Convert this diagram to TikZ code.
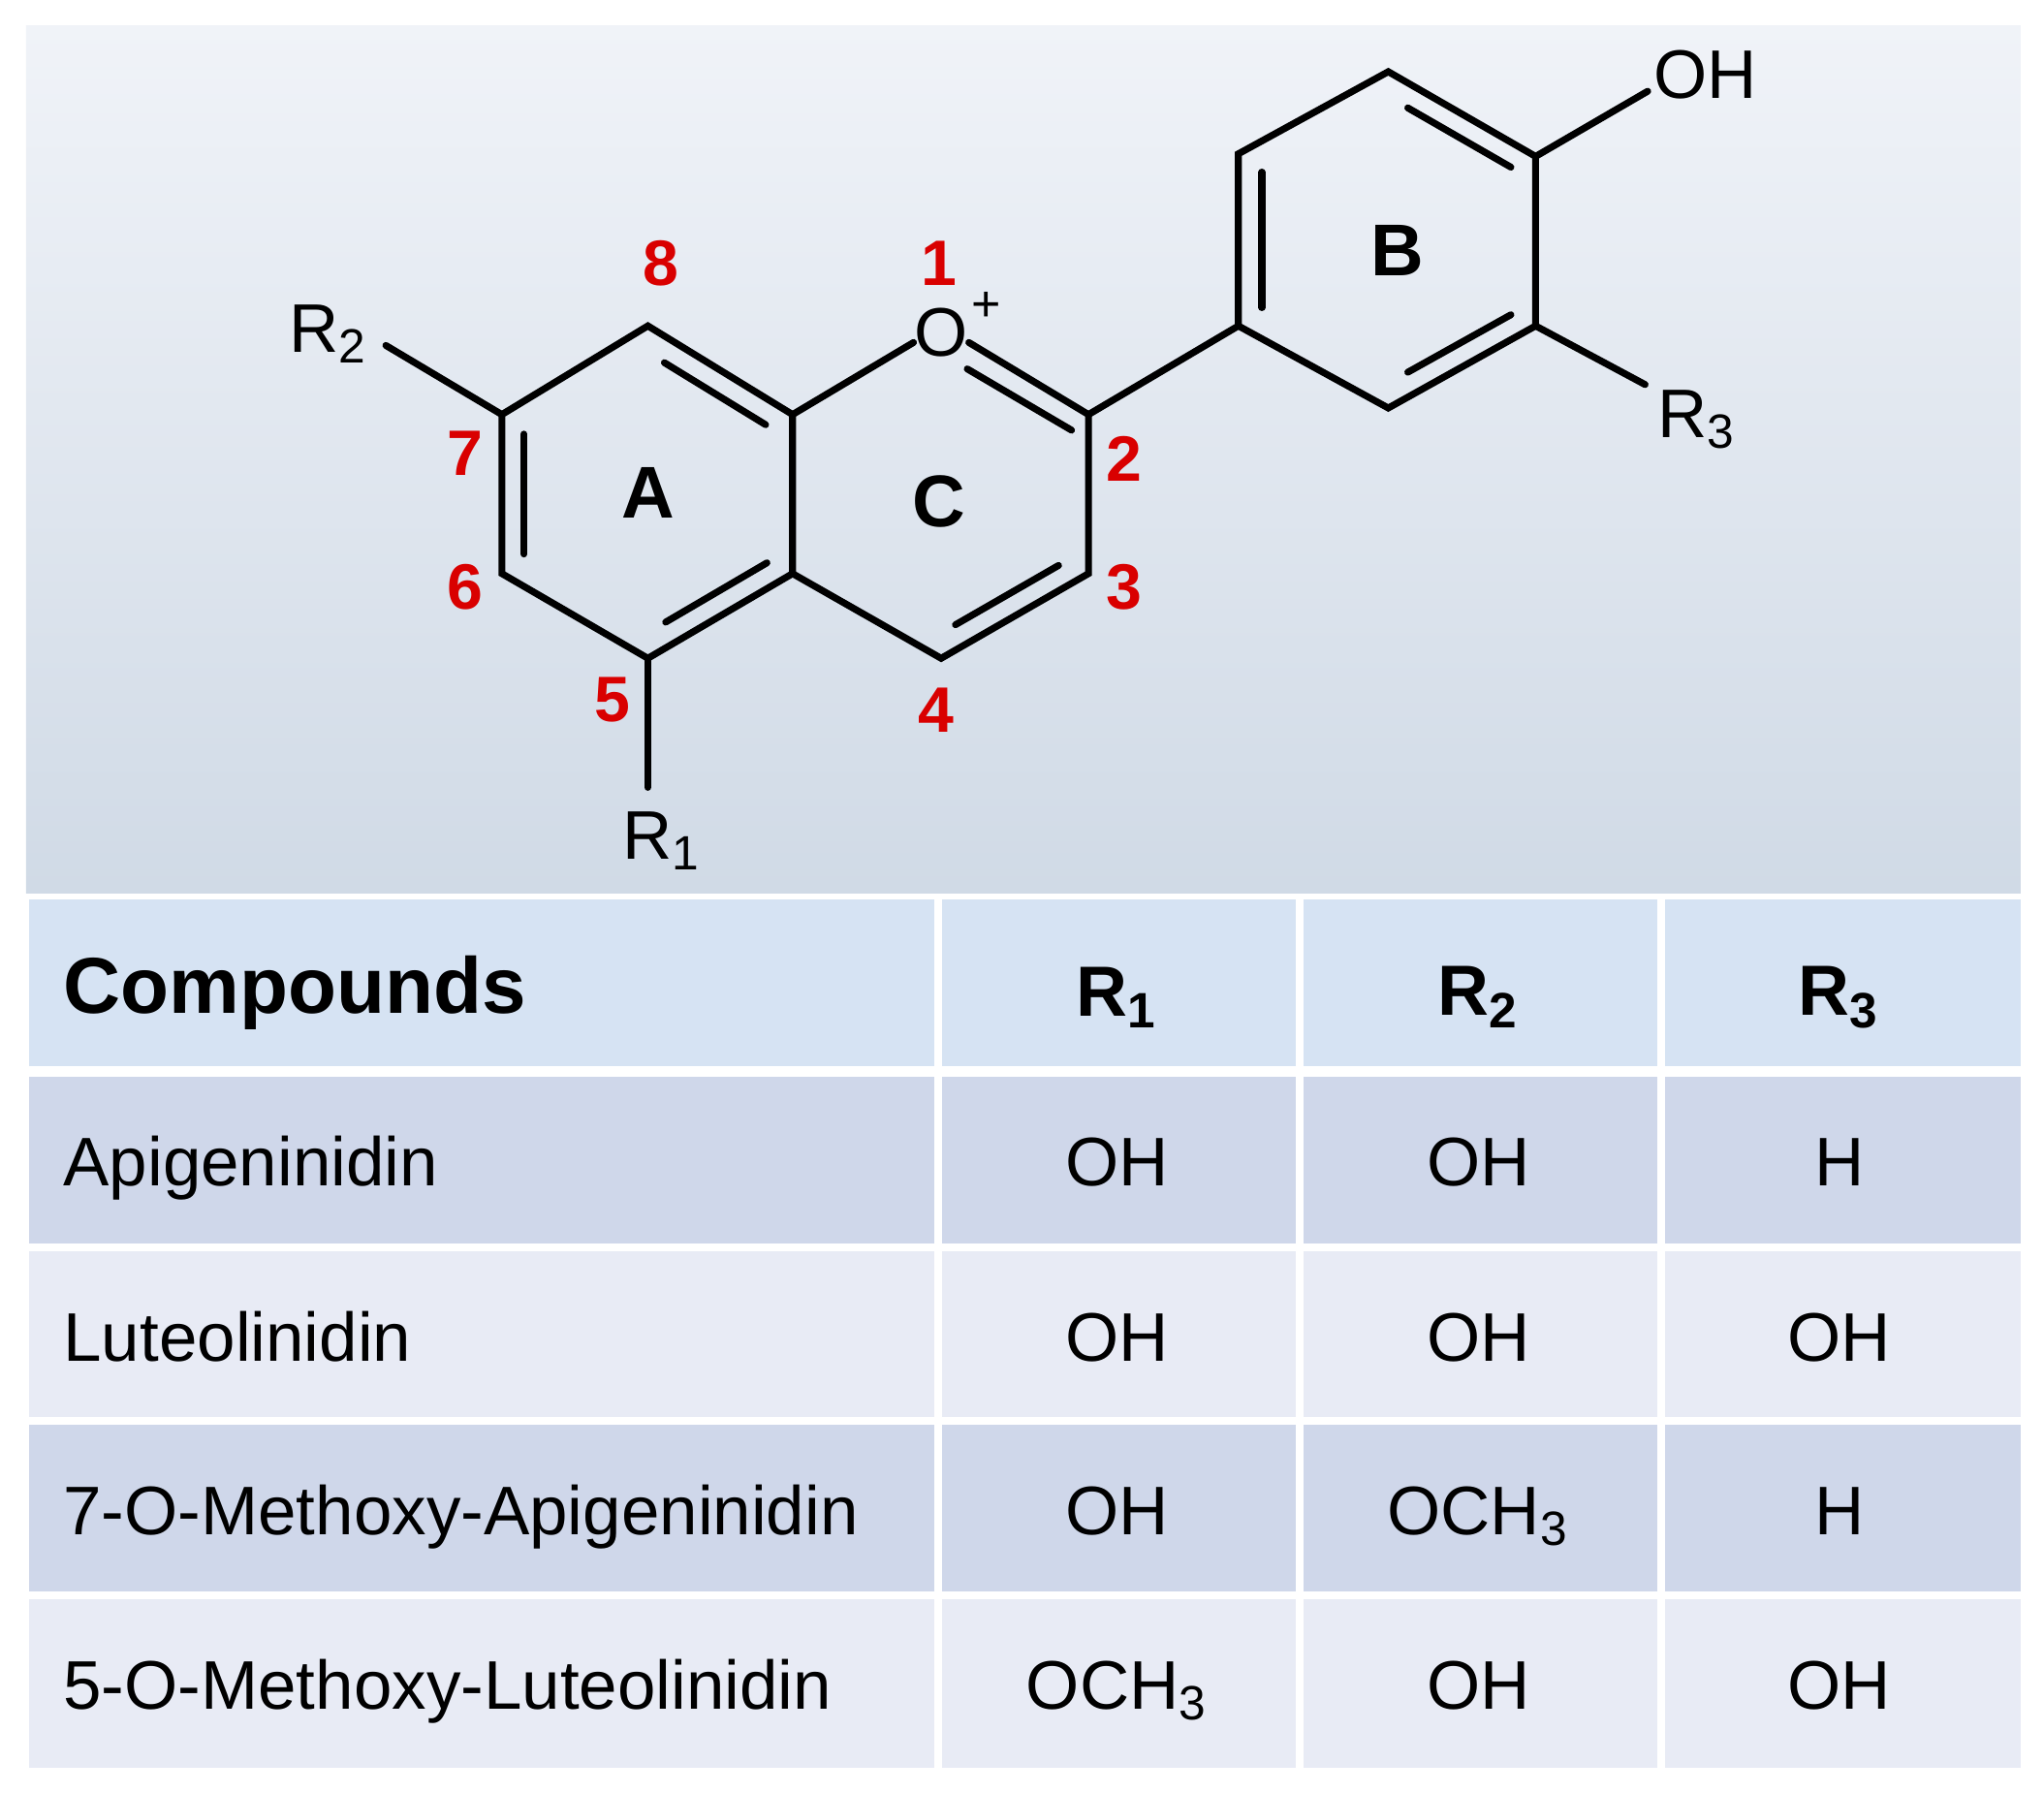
\documentclass[tikz,border=0pt]{standalone}
\usepackage{fontspec}
\setmainfont{Liberation Sans}
\usetikzlibrary{calc}
\begin{document}
\begin{tikzpicture}[x=0.01cm,y=-0.01cm,
 bond/.style={line width=1.5pt,line cap=round},
 num/.style={text=red!85!black,font=\bfseries\fontsize{14}{14}\selectfont,inner sep=0},
 lab/.style={font=\fontsize{15}{15}\selectfont,inner sep=0},
 ring/.style={font=\bfseries\fontsize{16}{16}\selectfont,inner sep=0},
 cell/.style={font=\fontsize{15}{15}\selectfont,inner sep=0,text height=0.72em,text depth=0.21em}]
\useasboundingbox (0,0) rectangle (1568,1376);
\fill[white] (0,0) rectangle (1568,1376);
\shade[top color={rgb,255:red,240;green,243;blue,248},bottom color={rgb,255:red,208;green,218;blue,230}] (20,20) rectangle (1550,685);
% table
\definecolor{hdr}{RGB}{214,227,243}
\definecolor{rowa}{RGB}{207,215,234}
\definecolor{rowb}{RGB}{232,235,245}
\foreach \ya/\yb/\c in {690/818/hdr,826/955/rowa,959/1088/rowb,1092/1222/rowa,1226/1356/rowb}{
 \fill[\c] (22,\ya) rectangle (1550,\yb);}
\foreach \x in {720,997,1274}{\fill[white] (\x-3,690) rectangle (\x+3,1358);}
\foreach \y in {822,957,1090,1224}{\fill[white] (20,\y-3) rectangle (1550,\y+3);}
\node[anchor=west,font=\bfseries\fontsize{17.3}{17.3}\selectfont,inner sep=0,text height=0.72em,text depth=0.21em] (hc) at (48,768) {Compounds};
\node[font=\bfseries\fontsize{15.5}{15.5}\selectfont,inner sep=0] (h1) at (857,765) {R\textsubscript{1}};
\node[font=\bfseries\fontsize{15.5}{15.5}\selectfont,inner sep=0] (h2) at (1134,765) {R\textsubscript{2}};
\node[font=\bfseries\fontsize{15.5}{15.5}\selectfont,inner sep=0] (h3) at (1411,765) {R\textsubscript{3}};
\foreach \y/\n/\a/\b/\cc [count=\i] in {901/Apigeninidin/OH/OH/H,1035/Luteolinidin/OH/OH/OH,1168/7-O-Methoxy-Apigeninidin/OH/OCH\textsubscript{3}/H,1302/5-O-Methoxy-Luteolinidin/OCH\textsubscript{3}/OH/OH}{
 \node[cell,anchor=west] (n\i) at (48,\y) {\n};
 \node[cell] (a\i) at (857,\y) {\a};
 \node[cell] (b\i) at (1134,\y) {\b};
 \node[cell] (c\i) at (1411,\y) {\cc};}
% molecule
\coordinate (C8) at (497,250); \coordinate (C8a) at (608,318); \coordinate (C4a) at (608,440);
\coordinate (C5) at (497,505); \coordinate (C6) at (385,440); \coordinate (C7) at (385,318);
\coordinate (C2) at (835,318); \coordinate (C3) at (835,440); \coordinate (C4) at (722,505);
\coordinate (B1) at (950,250); \coordinate (B2) at (950,118); \coordinate (B3) at (1065,55);
\coordinate (B4) at (1178,120); \coordinate (B5) at (1178,250); \coordinate (B6) at (1065,313);
\node[lab] (O1) at (722,255) {O};
\node[lab,font=\fontsize{11}{11}\selectfont] (plus) at (757,235) {+};
\draw[bond] (C7)--(C8)--(C8a)--(C4a)--(C5)--(C6)--cycle;
\draw[bond] (C8a)--(O1.200); \draw[bond] (O1.-20)--(C2)--(C3)--(C4)--(C4a);
\draw[bond] (C2)--(B1)--(B2)--(B3)--(B4)--(B5)--(B6)--(B1);
% inner double bonds
\draw[bond] ($(C8)!0.15!(C8a)+(-4,18)$)--($(C8)!0.85!(C8a)+(-4,18)$);
\draw[bond] (402,333)--(402,425);
\draw[bond] ($(C5)!0.15!(C4a)+(-3,-18)$)--($(C5)!0.85!(C4a)+(-3,-18)$);
\draw[bond] (742,283)--(822,330);
\draw[bond] ($(C3)!0.15!(C4)+(-6,-16)$)--($(C3)!0.85!(C4)+(-6,-16)$);
\draw[bond] (968,132)--(968,236);
\draw[bond] ($(B3)!0.15!(B4)+(-2,18)$)--($(B3)!0.85!(B4)+(-2,18)$);
\draw[bond] ($(B5)!0.15!(B6)+(-2,-18)$)--($(B5)!0.85!(B6)+(-2,-18)$);
% substituents
\node[lab] (R2) at (252,256) {R\textsubscript{2}};
\node[lab] (R1) at (508,645) {R\textsubscript{1}};
\node[lab] (OH) at (1308,57) {OH};
\node[lab] (R3) at (1302,322) {R\textsubscript{3}};
\draw[bond] (C7)--(296,265);
\draw[bond] (C5)--(497,604);
\draw[bond] (B4)--(1264,70);
\draw[bond] (B5)--(1262,295);
% numbers
\node[num] (n8) at (507,202) {8};
\node[num] (n1) at (720,202) {1};
\node[num] (n2) at (862,352) {2};
\node[num] (n3) at (862,450) {3};
\node[num] (n4) at (718,545) {4};
\node[num] (n5) at (470,537) {5};
\node[num] (n6) at (357,450) {6};
\node[num] (n7) at (357,348) {7};
\node[ring] (rA) at (497,378) {A};
\node[ring] (rC) at (720,385) {C};
\node[ring] (rB) at (1072,192) {B};
\end{tikzpicture}
\end{document}
